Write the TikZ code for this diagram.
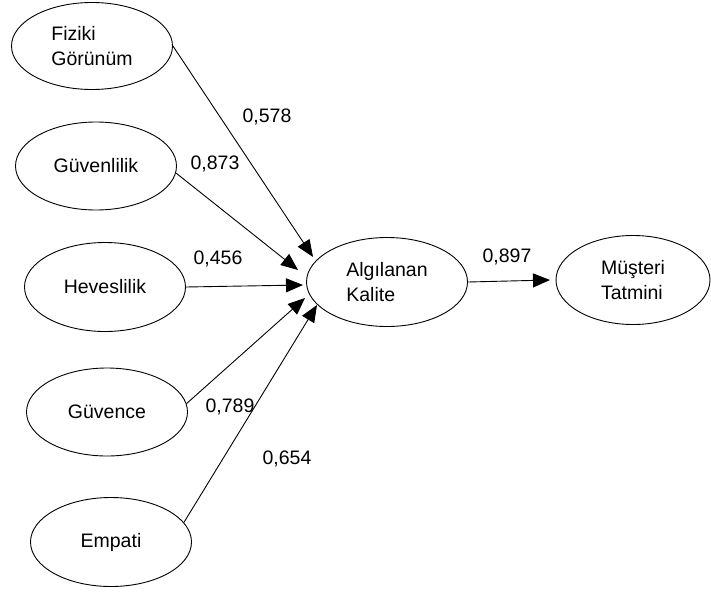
\documentclass[tikz,border=0pt]{standalone}
\usepackage{fontspec}
\setmainfont{Liberation Sans}
\usetikzlibrary{arrows.meta,shapes.geometric}
\begin{document}
\begin{tikzpicture}[x=1pt,y=-1pt,
  construct/.style={draw, line width=0.9pt, ellipse, inner sep=0pt,
    minimum width=161pt, minimum height=89pt, align=left,
    font=\fontsize{19.5}{25}\selectfont},
  path/.style={line width=0.9pt, -{Triangle[length=17pt,width=14pt]}},
  coef/.style={font=\fontsize{19.5}{22}\selectfont, inner sep=0pt}]
\useasboundingbox (0,0) rectangle (711,591);
\node[construct, minimum height=87pt] (fiz) at (92,46) {Fiziki\\Görünüm};
\node[construct, minimum height=88pt] (gvl) at (96,166) {Güvenlilik};
\node[construct] (hev) at (105,287) {Heveslilik};
\node[construct, minimum height=88pt] (gvc) at (107,412) {Güvence};
\node[construct] (emp) at (111,542) {Empati};
\node[construct] (alg) at (387,282) {Algılanan\\Kalite};
\node[construct, minimum width=154pt] (mus) at (633,280) {Müşteri\\Tatmini};
\coordinate (t1) at (313,257);
\coordinate (t2) at (298,270);
\coordinate (t3) at (303,285);
\coordinate (t4) at (305,298);
\coordinate (t5) at (317,305);
\coordinate (t6) at (550,280);
\draw[path] (fiz.east) -- (t1);
\draw[path] (gvl.-5) -- (t2);
\draw[path] (hev.east) -- (t3);
\draw[path] (gvc.6) -- (t4);
\draw[path] (emp.15) -- (t5);
\draw[path] (alg.east) -- (t6);
\node[coef] (c1) at (267,117) {0,578};
\node[coef] (c2) at (215,164) {0,873};
\node[coef] (c3) at (218,259) {0,456};
\node[coef] (c4) at (230,407) {0,789};
\node[coef] (c5) at (287,459) {0,654};
\node[coef] (c6) at (507,257) {0,897};
\end{tikzpicture}
\end{document}
